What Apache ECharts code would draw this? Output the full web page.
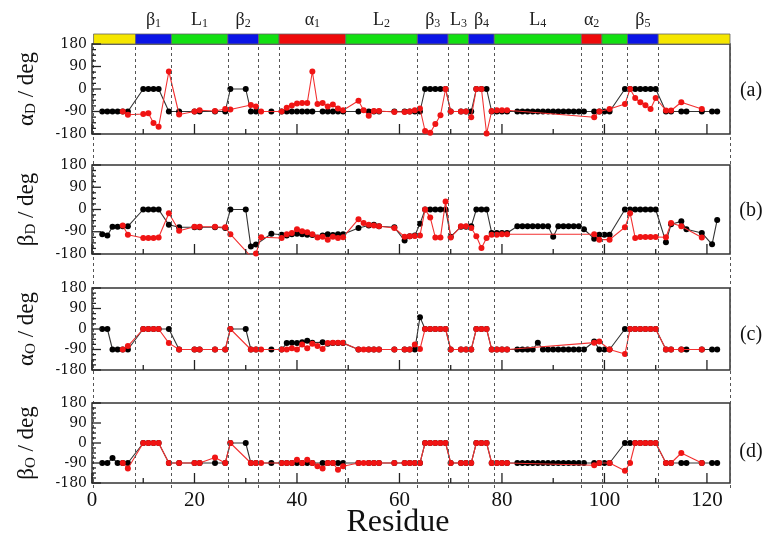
<!DOCTYPE html>
<html><head><meta charset="utf-8">
<script src="https://cdn.jsdelivr.net/npm/echarts@6.0.0/dist/echarts.min.js"></script>
<style>html,body{margin:0;padding:0;background:#fff}#c{width:769px;height:548px}</style>
</head><body><div id="c"></div>
<script>
// ---------- axis / annotation data ----------
const xTicks = [0, 20, 40, 60, 80, 100, 120];
const xMinorTicks = [10, 30, 50, 70, 90, 110];
const yTicks = [-180, -90, 0, 90, 180];
const yMinorTicks = [-157.5, -135, -112.5, -67.5, -45, -22.5, 22.5, 45, 67.5, 112.5, 135, 157.5];
const panelSymbol = ['α', 'β', 'α', 'β'];
const panelSub = ['D', 'D', 'O', 'O'];
const panelTags = ['(a)', '(b)', '(c)', '(d)'];

// secondary structure segments
const ssStart = [0.3, 8.5, 15.5, 26.5, 32.5, 36.5, 49.5, 63.5, 69.5, 73.5, 78.5, 95.5, 99.5, 104.5, 110.5];
const ssEnd   = [8.5, 15.5, 26.5, 32.5, 36.5, 49.5, 63.5, 69.5, 73.5, 78.5, 95.5, 99.5, 104.5, 110.5, 124.5];
const ssType  = ['T', 'E', 'L', 'E', 'L', 'H', 'L', 'E', 'L', 'E', 'L', 'H', 'L', 'E', 'T'];
const ssName  = ['', 'β', 'L', 'β', '', 'α', 'L', 'β', 'L', 'β', 'L', 'α', '', 'β', ''];
const ssSub   = ['', '1', '1', '2', '', '1', '2', '3', '3', '4', '4', '2', '', '5', ''];
const boundaries = [0.3, 8.5, 15.5, 26.5, 32.5, 36.5, 49.5, 63.5, 69.5, 73.5, 78.5, 95.5, 99.5, 104.5, 110.5, 124.5];

// ---------- black series (residues + values per panel) ----------
const blackRes = [
  2, 3, 4, 5, 6, 7, 10, 11, 12, 13,
  15, 17, 20, 21, 24, 26, 27, 30, 31, 32,
  35, 37, 38, 39, 40, 41, 42, 43, 45, 46,
  47, 48, 49, 52, 54, 55, 56, 59, 61, 62,
  63, 64, 65, 66, 67, 68, 69, 70, 72, 73,
  74, 75, 76, 77, 78, 79, 80, 81, 83, 84,
  85, 86, 87, 88, 89, 90, 91, 92, 93, 94,
  95, 96, 98, 99, 100, 101, 104, 105, 106, 107,
  108, 109, 110, 112, 113, 115, 116, 119, 121, 122];
const blackA = [
  -90, -90, -90, -90, -90, -90, 0, 0, 0, 0,
  -90, -90, -90, -90, -90, -90, 0, 0, -90, -90,
  -90, -90, -90, -90, -90, -90, -90, -90, -90, -90,
  -90, -90, -90, -90, -90, -90, -90, -90, -90, -90,
  -90, -90, 0, 0, 0, 0, 0, -90, -90, -90,
  -90, 0, 0, 0, -90, -90, -90, -90, -90, -90,
  -90, -90, -90, -90, -90, -90, -90, -90, -90, -90,
  -90, -90, -90, -90, -90, -90, 0, 0, 0, 0,
  0, 0, 0, -90, -90, -90, -90, -90, -90, -90];
const blackB = [
  -100, -105, -70, -70, -68, -68, 0, 0, 0, 0,
  -62, -72, -72, -72, -72, -75, 0, 0, -150, -142,
  -98, -102, -105, -100, -98, -100, -102, -103, -105, -100,
  -103, -100, -100, -75, -65, -62, -68, -72, -125, -108,
  -105, -58, 0, 0, 0, 0, 0, -110, -70, -70,
  -68, 0, 0, 0, -95, -95, -95, -95, -68, -68,
  -68, -68, -68, -68, -68, -110, -68, -68, -68, -68,
  -68, -80, -118, -102, -102, -102, 0, 0, 0, 0,
  0, 0, 0, -132, -60, -48, -80, -95, -141, -42];
const blackC = [
  0, 0, -90, -90, -90, -90, 0, 0, 0, 0,
  0, -90, -90, -90, -90, -90, 0, 0, -90, -90,
  -90, -90, -62, -60, -62, -58, -52, -60, -58, -65,
  -62, -62, -62, -90, -90, -90, -90, -90, -90, -90,
  -90, 52, 0, 0, 0, 0, 0, -90, -90, -90,
  -90, 0, 0, 0, -90, -90, -90, -90, -90, -90,
  -90, -90, -60, -90, -90, -90, -90, -90, -90, -90,
  -90, -90, -55, -90, -90, -90, 0, 0, 0, 0,
  0, 0, 0, -90, -90, -90, -90, -90, -90, -90];
const blackD = [
  -90, -90, -68, -90, -90, -90, 0, 0, 0, 0,
  -90, -90, -90, -90, -90, -90, 0, 0, -90, -90,
  -90, -90, -90, -90, -90, -90, -90, -90, -90, -90,
  -90, -90, -90, -90, -90, -90, -90, -90, -90, -90,
  -90, -90, 0, 0, 0, 0, 0, -90, -90, -90,
  -90, 0, 0, 0, -90, -90, -90, -90, -90, -90,
  -90, -90, -90, -90, -90, -90, -90, -90, -90, -90,
  -90, -90, -90, -90, -90, -90, 0, 0, 0, 0,
  0, 0, 0, -90, -90, -90, -90, -90, -90, -90];

// ---------- red series ----------
const redRes = [
  6, 7, 10, 11, 12, 13, 15, 17, 20, 21,
  24, 26, 27, 31, 32, 33, 37, 38, 39, 40,
  41, 42, 43, 44, 45, 46, 47, 48, 49, 52,
  53, 54, 55, 56, 59, 61, 62, 63, 64, 65,
  66, 67, 68, 69, 70, 72, 73, 74, 75, 76,
  77, 78, 79, 80, 81, 98, 99, 101, 104, 105,
  106, 107, 108, 109, 110, 112, 113, 115, 119];
const redA = [
  -90, -103, -100, -97, -136, -151, 70, -102, -90, -85,
  -88, -80, -82, -64, -70, -90, -90, -75, -66, -58,
  -56, -56, 70, -60, -56, -70, -62, -78, -85, -47,
  -85, -107, -88, -88, -92, -92, -90, -85, -78, -168,
  -175, -140, -105, 0, -90, -90, -90, -113, 0, 0,
  -178, -88, -85, -85, -85, -113, -90, -80, -60, 0,
  -36, -53, -65, -80, -36, -86, -86, -53, -80];
const redB = [
  -65, -102, -115, -115, -115, -113, -15, -86, -70, -70,
  -70, -72, -100, -190, -178, -112, -115, -100, -95, -80,
  -88, -92, -100, -113, -110, -122, -110, -115, -112, -39,
  -55, -62, -65, -68, -75, -110, -108, -107, -105, 0,
  -32, -113, -113, 32, -113, -68, -68, -75, -108, -156,
  -115, -102, -102, -100, -100, -100, -122, -122, -72, -15,
  -115, -111, -111, -111, -111, -112, -55, -68, -113];
const redC = [
  -90, -75, 0, 0, 0, 0, -62, -90, -90, -90,
  -90, -90, 0, -90, -90, -90, -90, -90, -85, -90,
  -68, -85, -65, -75, -88, -62, -60, -60, -60, -90,
  -90, -90, -90, -90, -90, -90, -90, -68, -88, 0,
  0, 0, 0, 0, -90, -90, -90, -90, 0, 0,
  0, -90, -90, -90, -90, -60, -55, -90, -110, 0,
  0, 0, 0, 0, 0, -90, -90, -90, -90];
const redD = [
  -90, -115, 0, 0, 0, 0, -90, -90, -90, -90,
  -65, -90, 0, -90, -90, -90, -90, -90, -90, -75,
  -90, -75, -90, -105, -115, -90, -90, -120, -105, -90,
  -90, -90, -90, -90, -90, -90, -90, -90, -90, 0,
  0, 0, 0, 0, -90, -90, -90, -90, 0, 0,
  0, -90, -90, -90, -90, -100, -90, -90, -125, -90,
  0, 0, 0, 0, 0, -90, -90, -45, -90];

// ---------- build chart ----------
const blackSets = [blackA, blackB, blackC, blackD];
const redSets = [redA, redB, redC, redD];
const ssColors = { T: '#f5e600', E: '#0a14e6', L: '#12e012', H: '#ee0a0a' };
const panelBoxes = [[44, 90], [165, 89], [288, 82], [403, 80]];
const plotLeft = 92, plotWidth = 638, xMax = 124.5;
const serif = 'Liberation Serif';
const ink = '#111';
const tickLen = [10, 5, 9, 4];   // x-major, x-minor, y-major, y-minor

const grid = [], xAxis = [], yAxis = [], series = [];
panelBoxes.forEach((b, i) => {
  grid.push({ left: plotLeft, width: plotWidth, top: b[0], height: b[1], show: true,
    borderColor: '#333', borderWidth: 1.5, backgroundColor: 'transparent' });
});
grid.push({ left: plotLeft, width: plotWidth, top: 34, height: 10 });        // 4: SS bar
grid.push({ left: plotLeft, width: plotWidth, top: 44, height: 444 });       // 5: dashed overlay

for (let i = 0; i < 4; i++) {
  xAxis.push({ gridIndex: i, type: 'value', min: 0, max: xMax, interval: 20, position: 'bottom',
    axisLine: { show: false, onZero: false }, splitLine: { show: false }, axisTick: { show: false },
    axisLabel: { show: i === 3, margin: 7, fontFamily: serif, fontSize: 21, color: ink,
      formatter: v => (xTicks.indexOf(v) >= 0 ? String(v) : '') } });
  yAxis.push({ gridIndex: i, type: 'value', min: -180, max: 180, interval: 90, position: 'left',
    axisLine: { show: false, onZero: false }, splitLine: { show: false }, axisTick: { show: false },
    axisLabel: { margin: 5, fontFamily: 'DejaVu Serif', fontSize: 14, color: ink,
      formatter: v => (yTicks.indexOf(v) >= 0 ? String(v) : '') },
    name: '{m|' + panelSymbol[i] + '}{s|' + panelSub[i] + '}{m| / deg}',
    nameLocation: 'middle', nameRotate: 90, nameGap: 53,
    nameTextStyle: { rich: {
      m: { fontFamily: serif, fontSize: 23, color: ink },
      s: { fontFamily: serif, fontSize: 15, color: ink, padding: [10, 0, 0, 0] } } } });
}
xAxis.push({ gridIndex: 4, type: 'value', min: 0, max: xMax, show: false });
xAxis.push({ gridIndex: 5, type: 'value', min: 0, max: xMax, show: false });
yAxis.push({ gridIndex: 4, type: 'value', min: 0, max: 1, show: false });
yAxis.push({ gridIndex: 5, type: 'value', min: 0, max: 1, show: false });

// dashed boundary lines
series.push({ type: 'line', xAxisIndex: 5, yAxisIndex: 5, data: [], silent: true, z: 1,
  markLine: { symbol: 'none', silent: true, animation: false, label: { show: false },
    lineStyle: { type: [3, 3], color: '#555', width: 1 },
    data: boundaries.map(b => ({ xAxis: b })) } });

// secondary structure bar
series.push({ type: 'custom', xAxisIndex: 4, yAxisIndex: 4, silent: true, z: 5,
  data: ssStart.map((s, k) => [s, ssEnd[k], k]),
  renderItem: (params, api) => {
    const k = api.value(2);
    const p0 = api.coord([api.value(0), 1]);
    const p1 = api.coord([api.value(1), 0]);
    const children = [{ type: 'rect',
      shape: { x: p0[0], y: p0[1], width: p1[0] - p0[0], height: p1[1] - p0[1] },
      style: { fill: ssColors[ssType[k]], stroke: '#666', lineWidth: 0.8 } }];
    if (ssName[k]) {
      children.push({ type: 'text', style: {
        text: '{m|' + ssName[k] + '}{s|' + ssSub[k] + '}',
        x: (p0[0] + p1[0]) / 2, y: p0[1] - 4, align: 'center', verticalAlign: 'bottom',
        textAlign: 'center', textVerticalAlign: 'bottom',
        rich: { m: { fontFamily: serif, fontSize: 18, fill: '#222', color: '#222' },
                s: { fontFamily: serif, fontSize: 12, fill: '#222', color: '#222', padding: [8, 0, 0, 0] } } } });
    }
    return { type: 'group', children };
  } });

// tick marks (inside) for each panel, placed through the panel's own scales
const tickKind = [].concat(xTicks.map(() => 0), xMinorTicks.map(() => 1), yTicks.map(() => 2), yMinorTicks.map(() => 3));
const tickVal = [].concat(xTicks, xMinorTicks, yTicks, yMinorTicks);
for (let i = 0; i < 4; i++) {
  series.push({ type: 'custom', xAxisIndex: i, yAxisIndex: i, silent: true, z: 6, clip: false,
    data: tickVal.map((v, k) => ({ value: [k, 0] })),
    renderItem: (params, api) => {
      const k = params.dataIndex;
      const v = tickVal[k], kind = tickKind[k], len = tickLen[kind];
      let a, b;
      if (kind < 2) { a = api.coord([v, -180]); b = [a[0], a[1] - len]; }
      else { a = api.coord([0, v]); b = [a[0] + len, a[1]]; }
      return { type: 'polyline', shape: { points: [a, b] },
        style: { stroke: '#222', lineWidth: 1.3, fill: null } };
    } });
}

for (let i = 0; i < 4; i++) {
  series.push({ type: 'line', xAxisIndex: i, yAxisIndex: i, z: 3,
    data: blackRes.map((r, k) => [r, blackSets[i][k]]),
    symbol: 'circle', symbolSize: 6, showAllSymbol: true,
    itemStyle: { color: '#000' }, lineStyle: { color: '#333', width: 1.1 } });
  series.push({ type: 'line', xAxisIndex: i, yAxisIndex: i, z: 4,
    data: redRes.map((r, k) => [r, redSets[i][k]]),
    symbol: 'circle', symbolSize: 6, showAllSymbol: true,
    itemStyle: { color: '#f01414' }, lineStyle: { color: '#f23030', width: 1.1 } });
}

const tagY = [91, 211, 335, 452];
const graphic = [{ type: 'text', x: 398, y: 523,
  style: { text: 'Residue', font: '32px "Liberation Serif"', fill: ink, align: 'center', verticalAlign: 'middle' } }];
panelTags.forEach((t, i) => graphic.push({ type: 'text', x: 751, y: tagY[i],
  style: { text: t, font: '20px "Liberation Serif"', fill: ink, align: 'center', verticalAlign: 'middle' } }));

const chart = echarts.init(document.getElementById('c'), null, { renderer: 'canvas' });
chart.setOption({ animation: false, backgroundColor: '#fff', grid, xAxis, yAxis, series, graphic });
</script></body></html>
